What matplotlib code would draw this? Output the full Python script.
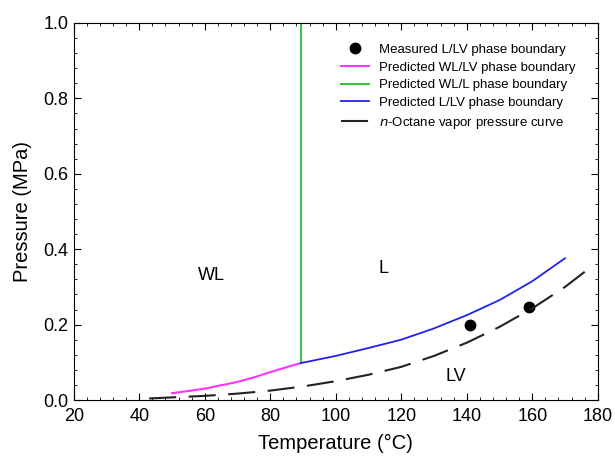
import matplotlib
matplotlib.use("Agg")
import matplotlib.pyplot as plt
from matplotlib.ticker import MultipleLocator, FormatStrFormatter

plt.rcParams['font.family'] = ['Liberation Sans', 'DejaVu Sans']

# measured L/LV boundary
meas_t = [140.9, 158.9]
meas_p = [0.199, 0.248]

# predicted WL/LV boundary (magenta)
wllv_t = [50, 55, 60, 65, 70, 75, 80, 85, 89.3]
wllv_p = [0.018, 0.024, 0.030, 0.039, 0.048, 0.060, 0.074, 0.087, 0.098]

# predicted WL/L boundary (green)
wll_t = [89.3, 89.3]
wll_p = [0.098, 1.0]

# predicted L/LV boundary (blue)
llv_t = [89.3, 95, 100, 110, 120, 130, 140, 150, 160, 170]
llv_p = [0.098, 0.108, 0.117, 0.138, 0.160, 0.190, 0.225, 0.265, 0.315, 0.376]

# n-octane vapor pressure curve
oct_t = [43, 50, 60, 70, 80, 90, 100, 110, 120, 130, 140, 150, 160, 170, 176]
oct_p = [0.004, 0.007, 0.011, 0.017, 0.025, 0.036, 0.050, 0.067, 0.088, 0.117,
         0.152, 0.194, 0.243, 0.300, 0.340]

fig = plt.figure(figsize=(6.15, 4.59), dpi=100)
ax = fig.add_axes([0.120, 0.1285, 0.852, 0.8215])

ax.plot(meas_t, meas_p, 'o', color='black', ms=7.5, label='Measured L/LV phase boundary')
ax.plot(wllv_t, wllv_p, color='#ff33ff', lw=1.5, label='Predicted WL/LV phase boundary')
ax.plot(wll_t, wll_p, color='#3cc23c', lw=1.5, label='Predicted WL/L phase boundary')
ax.plot(llv_t, llv_p, color='#2222ee', lw=1.3, label='Predicted L/LV phase boundary')
ax.plot(oct_t, oct_p, color='#222222', lw=1.5, dashes=(13, 6),
        label='$n$-Octane vapor pressure curve')

ax.text(62, 0.33, 'WL', fontsize=13, ha='center', va='center')
ax.text(114.7, 0.35, 'L', fontsize=13, ha='center', va='center')
ax.text(136.8, 0.062, 'LV', fontsize=13, ha='center', va='center')

ax.set_xlim(20, 180)
ax.set_ylim(0, 1.0)
ax.xaxis.set_major_locator(MultipleLocator(20))
ax.xaxis.set_minor_locator(MultipleLocator(4))
ax.yaxis.set_major_locator(MultipleLocator(0.2))
ax.yaxis.set_minor_locator(MultipleLocator(0.04))
ax.yaxis.set_major_formatter(FormatStrFormatter('%.1f'))
ax.tick_params(which='both', direction='in', top=True, right=True, labelsize=13)
ax.tick_params(which='major', length=5)
ax.tick_params(which='minor', length=2.5)
ax.tick_params(axis='x', pad=6)
ax.tick_params(axis='y', pad=4)

ax.set_xlabel('Temperature (°C)', fontsize=14.5, labelpad=6)
ax.set_ylabel('Pressure (MPa)', fontsize=14.5, labelpad=8)

leg = ax.legend(loc='upper right', bbox_to_anchor=(0.98, 0.977), frameon=False,
                fontsize=9.5, handlelength=2.1, labelspacing=0.42, handletextpad=0.75)

fig.savefig('out.png', dpi=100)
